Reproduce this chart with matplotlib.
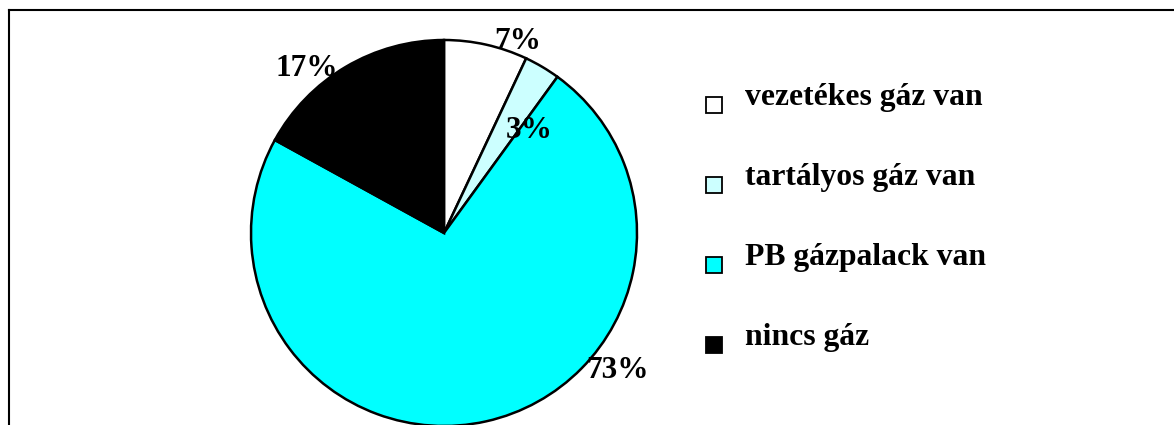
import matplotlib
matplotlib.use("Agg")
import matplotlib.pyplot as plt
from matplotlib.patches import Rectangle
from matplotlib.lines import Line2D

labels = ["vezetékes gáz van", "tartályos gáz van", "PB gázpalack van", "nincs gáz"]
values = [7, 3, 73, 17]
colors = ["#FFFFFF", "#CCFFFF", "#00FFFF", "#000000"]
# label positions in units of the pie radius (Excel "best fit" placement)
label_pos = [(0.38, 0.99), (0.44, 0.53), (0.90, -0.71), (-0.71, 0.85)]

W, H = 1174, 425
plt.rcParams['font.family'] = ['Liberation Serif', 'DejaVu Serif']
plt.rcParams['font.weight'] = 'bold'

fig = plt.figure(figsize=(W / 100, H / 100), dpi=100)

# pie: centre (444, 233) px, radius 193 px
cx, cy, r = 444, 233, 193
ax = fig.add_axes([(cx - r) / W, (H - cy - r) / H, 2 * r / W, 2 * r / H])
ax.pie(values, colors=colors, startangle=90, counterclock=False, radius=1,
       wedgeprops=dict(edgecolor="black", linewidth=1.8))
ax.set_xlim(-1, 1)
ax.set_ylim(-1, 1)
ax.set_aspect("equal")
ax.axis("off")

for v, (lx, ly) in zip(values, label_pos):
    ax.text(lx, ly, f"{v}%", ha="center", va="center", fontsize=22.5,
            fontweight="bold", clip_on=False)

# legend drawn by hand
for i, (lab, col) in enumerate(zip(labels, colors)):
    ty = 97 + i * 80
    sy = ty + 8
    fig.patches.append(Rectangle(((706) / W, 1 - (sy + 8) / H), 16 / W, 16 / H,
                                 transform=fig.transFigure, facecolor=col,
                                 edgecolor="black", linewidth=1.3))
    fig.text(745 / W, 1 - ty / H, lab, ha="left", va="center",
             fontsize=22.8, fontweight="bold")

# chart border (top and left sides visible)
fig.add_artist(Line2D([8.5 / W, 1], [1 - 9.5 / H, 1 - 9.5 / H],
                      transform=fig.transFigure, color="black", linewidth=1.5))
fig.add_artist(Line2D([8.5 / W, 8.5 / W], [0, 1 - 9.5 / H],
                      transform=fig.transFigure, color="black", linewidth=1.5))

fig.savefig("out.png", dpi=100, facecolor="white")
